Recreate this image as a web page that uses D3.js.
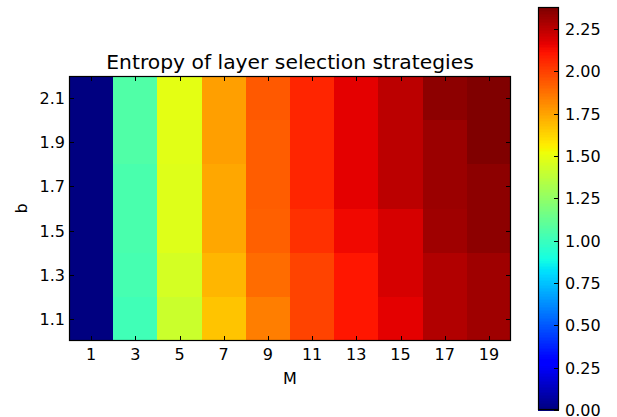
<!DOCTYPE html>
<html>
<head>
<meta charset="utf-8">
<script src="https://cdn.jsdelivr.net/npm/d3@7"></script>
<style>
  body { margin: 0; background: #fff; }
  svg { font-family: "DejaVu Sans", sans-serif; }
</style>
</head>
<body>
<div id="chart"></div>
<script>
// number of layers M (columns) and parameter b (rows)
const mValues = [1, 3, 5, 7, 9, 11, 13, 15, 17, 19];
const bValues = [1.1, 1.3, 1.5, 1.7, 1.9, 2.1];

// entropy, one row per b value (same order as bValues), one entry per M
const entropy = [
  [0, 1.02, 1.42, 1.67, 1.85, 1.99, 2.11, 2.17, 2.27, 2.31],
  [0, 1.04, 1.445, 1.71, 1.89, 1.99, 2.11, 2.20, 2.27, 2.31],
  [0, 1.05, 1.47, 1.74, 1.92, 2.04, 2.14, 2.20, 2.31, 2.35],
  [0, 1.05, 1.47, 1.74, 1.93, 2.07, 2.17, 2.25, 2.32, 2.35],
  [0, 1.06, 1.48, 1.76, 1.93, 2.07, 2.17, 2.25, 2.32, 2.38],
  [0, 1.06, 1.49, 1.76, 1.94, 2.07, 2.17, 2.25, 2.35, 2.38]
];

const colorbarTicks = [0, 0.25, 0.5, 0.75, 1.0, 1.25, 1.5, 1.75, 2.0, 2.25];

const WIDTH = 617;
const HEIGHT = 417;
const AX = { left: 69, right: 511, top: 76, bottom: 341 };
const CB = { left: 538, right: 559, top: 7, bottom: 410 };
const TICK = 5;

// matplotlib "jet" colormap, 256 levels
function jet(t) {
  t = Math.max(0, Math.min(1, t));
  t = Math.min(255, Math.floor(t * 256)) / 255;
  function seg(pts) {
    for (let i = 1; i < pts.length; i++) {
      if (t <= pts[i][0]) {
        const [x0, y0] = pts[i - 1], [x1, y1] = pts[i];
        return y0 + (y1 - y0) * (t - x0) / (x1 - x0);
      }
    }
    return pts[pts.length - 1][1];
  }
  const r = seg([[0, 0], [0.35, 0], [0.66, 1], [0.89, 1], [1, 0.5]]);
  const g = seg([[0, 0], [0.125, 0], [0.375, 1], [0.64, 1], [0.91, 0], [1, 0]]);
  const b = seg([[0, 0.5], [0.11, 1], [0.34, 1], [0.65, 0], [1, 0]]);
  return d3.rgb(r * 255, g * 255, b * 255).toString();
}

const cells = [];
bValues.forEach((b, i) => {
  mValues.forEach((m, j) => cells.push({ m: m, b: b, v: entropy[i][j] }));
});
const vmax = d3.max(cells, d => d.v);
const vmin = d3.min(cells, d => d.v);

const x = d3.scaleLinear().domain([0, 20]).range([AX.left, AX.right]);
const y = d3.scaleLinear().domain([1.0, 2.2]).range([AX.bottom, AX.top]);
const color = d3.scaleSequential(jet).domain([vmin, vmax]);

const svg = d3.select('#chart')
  .append('svg')
  .attr('width', WIDTH)
  .attr('height', HEIGHT);

// heatmap cells
svg.append('g')
  .attr('shape-rendering', 'crispEdges')
  .selectAll('rect')
  .data(cells)
  .enter()
  .append('rect')
  .attr('x', d => x(d.m - 1))
  .attr('y', d => y(d.b + 0.1))
  .attr('width', d => x(d.m + 1) - x(d.m - 1))
  .attr('height', d => y(d.b - 0.1) - y(d.b + 0.1))
  .attr('fill', d => color(d.v));

// inward ticks on all four sides (classic matplotlib style)
const ticks = svg.append('g').attr('stroke', '#000').attr('stroke-width', 1);
mValues.forEach(m => {
  const px = Math.round(x(m)) + 0.5;
  ticks.append('line').attr('x1', px).attr('x2', px).attr('y1', AX.bottom).attr('y2', AX.bottom - TICK);
  ticks.append('line').attr('x1', px).attr('x2', px).attr('y1', AX.top).attr('y2', AX.top + TICK);
});
bValues.forEach(b => {
  const py = Math.round(y(b)) + 0.5;
  ticks.append('line').attr('x1', AX.left).attr('x2', AX.left + TICK).attr('y1', py).attr('y2', py);
  ticks.append('line').attr('x1', AX.right).attr('x2', AX.right - TICK).attr('y1', py).attr('y2', py);
});

svg.append('rect')
  .attr('x', AX.left + 0.5)
  .attr('y', AX.top + 0.5)
  .attr('width', AX.right - AX.left - 1)
  .attr('height', AX.bottom - AX.top - 1)
  .attr('fill', 'none')
  .attr('stroke', '#000')
  .attr('stroke-width', 1.2);

// tick labels
svg.append('g')
  .selectAll('text')
  .data(mValues)
  .enter()
  .append('text')
  .attr('x', d => x(d))
  .attr('y', AX.bottom + 19)
  .attr('text-anchor', 'middle')
  .attr('font-size', 16)
  .text(d => d);

svg.append('g')
  .selectAll('text')
  .data(bValues)
  .enter()
  .append('text')
  .attr('x', AX.left - 4)
  .attr('y', d => y(d) + 6)
  .attr('text-anchor', 'end')
  .attr('font-size', 16)
  .text(d => d.toFixed(1));

// axis labels and title
svg.append('text')
  .attr('x', (AX.left + AX.right) / 2)
  .attr('y', 384)
  .attr('text-anchor', 'middle')
  .attr('font-size', 16)
  .text('M');

svg.append('text')
  .attr('transform', `translate(27, ${(AX.top + AX.bottom) / 2}) rotate(-90)`)
  .attr('text-anchor', 'middle')
  .attr('font-size', 16)
  .text('b');

svg.append('text')
  .attr('x', (AX.left + AX.right) / 2)
  .attr('y', 69)
  .attr('text-anchor', 'middle')
  .attr('font-size', 20.3)
  .text('Entropy of layer selection strategies');

// colorbar
const cbScale = d3.scaleLinear().domain([vmin, vmax]).range([CB.bottom, CB.top]);
const steps = d3.range(256).map(i => vmin + (vmax - vmin) * i / 256);
const stepH = (CB.bottom - CB.top) / 256;

svg.append('g')
  .attr('shape-rendering', 'crispEdges')
  .selectAll('rect')
  .data(steps)
  .enter()
  .append('rect')
  .attr('x', CB.left)
  .attr('y', d => cbScale(d) - stepH - 0.5)
  .attr('width', CB.right - CB.left)
  .attr('height', stepH + 1)
  .attr('fill', d => color(d + (vmax - vmin) / 512));

const cbTicks = svg.append('g').attr('stroke', '#000').attr('stroke-width', 1);
colorbarTicks.forEach(t => {
  const py = Math.round(cbScale(t)) + 0.5;
  cbTicks.append('line').attr('x1', CB.right).attr('x2', CB.right - TICK).attr('y1', py).attr('y2', py);
});

svg.append('rect')
  .attr('x', CB.left + 0.5)
  .attr('y', CB.top + 0.5)
  .attr('width', CB.right - CB.left - 1)
  .attr('height', CB.bottom - CB.top - 1)
  .attr('fill', 'none')
  .attr('stroke', '#000')
  .attr('stroke-width', 1.2);

svg.append('g')
  .selectAll('text')
  .data(colorbarTicks)
  .enter()
  .append('text')
  .attr('x', CB.right + 6)
  .attr('y', d => cbScale(d) + 6)
  .attr('font-size', 16)
  .text(d => d.toFixed(2));
</script>
</body>
</html>
